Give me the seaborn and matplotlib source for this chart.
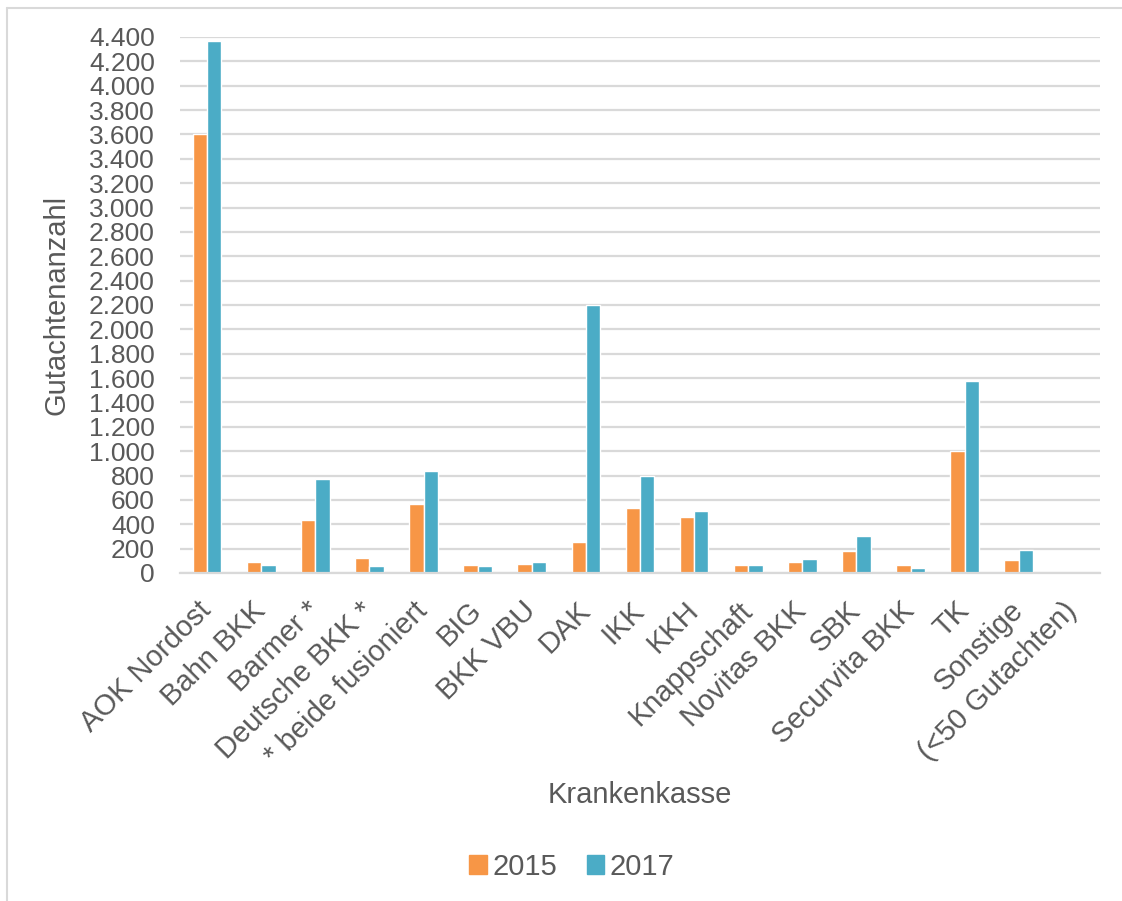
import numpy as np
import pandas as pd
import seaborn as sns
import matplotlib.pyplot as plt
from matplotlib.ticker import FuncFormatter, MultipleLocator
from matplotlib.lines import Line2D

kassen = ['AOK Nordost', 'Bahn BKK', 'Barmer *', 'Deutsche BKK *', '* beide fusioniert',
          'BIG', 'BKK VBU', 'DAK', 'IKK', 'KKH', 'Knappschaft', 'Novitas BKK', 'SBK',
          'Securvita BKK', 'TK', 'Sonstige', '(<50 Gutachten)']
werte_2015 = [3600, 88, 435, 125, 565, 68, 74, 258, 535, 461, 66, 87, 183, 66, 1000, 104, np.nan]
werte_2017 = [4370, 66, 770, 60, 834, 57, 87, 2200, 795, 507, 66, 112, 301, 44, 1580, 190, np.nan]
jahre = ['2015', '2017']
farben = ['#F79646', '#4BACC6']

df = pd.DataFrame({
    'Krankenkasse': kassen * 2,
    'Gutachtenanzahl': werte_2015 + werte_2017,
    'Jahr': [jahre[0]] * len(kassen) + [jahre[1]] * len(kassen),
})

sns.set_theme(style='white')
plt.rcParams['font.family'] = ['Liberation Sans', 'DejaVu Sans']
grau = '#595959'
fs = 21

fig = plt.figure(figsize=(11.22, 9.01), dpi=100)
ax = fig.add_axes([180 / 1122, 1 - 573 / 901, 920 / 1122, 536 / 901])

sns.barplot(data=df, x='Krankenkasse', y='Gutachtenanzahl', hue='Jahr', order=kassen,
            hue_order=jahre, palette=farben, width=0.53, edgecolor='white', linewidth=1,
            saturation=1, ax=ax, legend=True)

ax.set_xlim(-0.5, len(kassen) - 0.5)
ax.set_ylim(0, 4400)
ax.yaxis.set_major_locator(MultipleLocator(200))
ax.yaxis.set_major_formatter(FuncFormatter(lambda v, p: f'{int(v):,}'.replace(',', '.')))
ax.grid(axis='y', color='#D9D9D9', linewidth=1.6)
ax.set_axisbelow(True)
for s in ['top', 'right', 'left']:
    ax.spines[s].set_visible(False)
ax.spines['bottom'].set_color('#D9D9D9')
ax.spines['bottom'].set_linewidth(1.6)
ax.tick_params(axis='both', length=0, labelcolor=grau)
ax.tick_params(axis='y', pad=18, labelsize=19)
ax.tick_params(axis='x', pad=24, labelsize=fs)
plt.setp(ax.get_xticklabels(), rotation=45, ha='right', va='center', rotation_mode='anchor')

ax.set_xlabel('Krankenkasse', fontsize=fs, color=grau, va='center')
ax.set_ylabel('Gutachtenanzahl', fontsize=fs, color=grau, va='center')
ax.xaxis.set_label_coords(0.5, (573 - 795) / 536)
ax.yaxis.set_label_coords((57 - 180) / 920, (573 - 305) / 536)

ax.get_legend().remove()
handles = [plt.Rectangle((0, 0), 1, 1, color=c) for c in farben]
fig.legend(handles, jahre, loc='center', bbox_to_anchor=(572 / 1122, 1 - 867 / 901),
           ncol=2, frameon=False, fontsize=fs, labelcolor=grau, handlelength=0.6,
           handleheight=0.6, handletextpad=0.2, columnspacing=1.0)

fig.add_artist(Line2D([7 / 1122, 7 / 1122], [0, 1 - 8 / 901], color='#D9D9D9', linewidth=1.5,
                      transform=fig.transFigure))
fig.add_artist(Line2D([7 / 1122, 1], [1 - 8 / 901, 1 - 8 / 901], color='#D9D9D9', linewidth=1.5,
                      transform=fig.transFigure))

fig.savefig('out.png', dpi=100)
